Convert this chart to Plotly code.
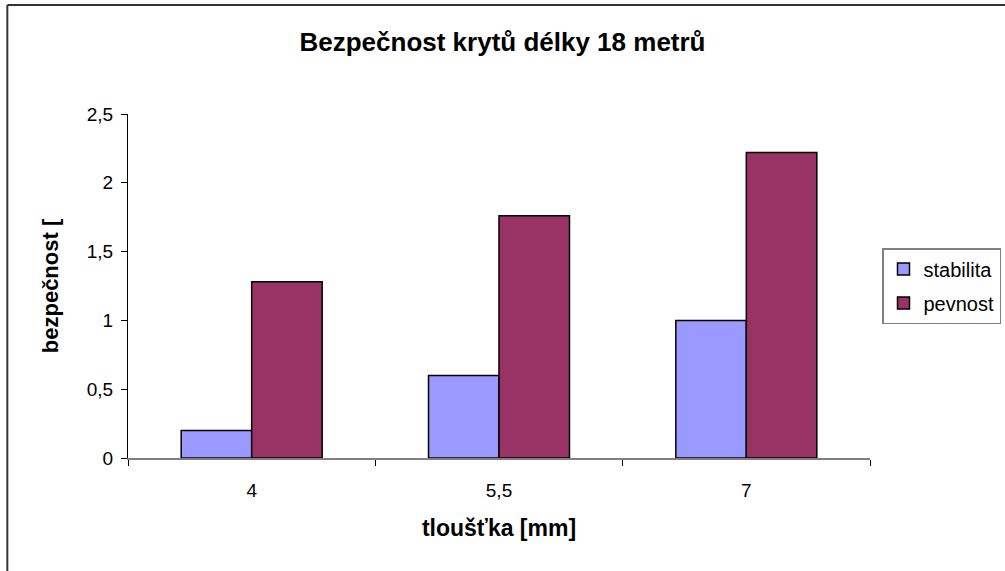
import plotly.graph_objects as go

# Data
thickness = ["4", "5,5", "7"]
stabilita = [0.2, 0.6, 1.0]
pevnost = [1.28, 1.76, 2.22]
y_ticks = [0, 0.5, 1, 1.5, 2, 2.5]
y_tick_labels = ["0", "0,5", "1", "1,5", "2", "2,5"]

FONT = "Liberation Sans, Arial, sans-serif"

fig = go.Figure()
fig.add_trace(go.Bar(
    x=thickness, y=stabilita, name="stabilita", legendgroup="a",
    marker=dict(color="#9999FF", line=dict(color="#000000", width=1.5)),
))
fig.add_trace(go.Bar(
    x=thickness, y=pevnost, name="pevnost", legendgroup="b",
    marker=dict(color="#993366", line=dict(color="#000000", width=1.5)),
))

# Plot area geometry in pixels (used for the outer frame lines)
L, R, T, B = 128, 133, 114, 113
W, H = 1005, 571
pw, ph = W - L - R, H - T - B

def px_x(x):
    return (x - L) / pw

def px_y(y):
    return (H - B - y) / ph

fig.update_layout(
    width=W, height=H,
    margin=dict(l=L, r=R, t=T, b=B),
    paper_bgcolor="white", plot_bgcolor="white",
    font=dict(family=FONT, size=19, color="#000000"),
    barmode="group", bargap=0.43, bargroupgap=0,
    title=dict(
        text="<b>Bezpečnost krytů délky 18 metrů</b>",
        x=0.5, xanchor="center", y=1 - 42 / H, yanchor="middle",
        font=dict(family=FONT, size=26),
    ),
    xaxis=dict(
        title=dict(text="<b>tloušťka [mm]</b>", font=dict(size=23), standoff=20),
        showline=True, linecolor="#808080", linewidth=2,
        ticks="outside", ticklen=6, tickcolor="#000000",
        tickson="boundaries", showgrid=False,
        tickfont=dict(size=19), ticklabelstandoff=14,
    ),
    yaxis=dict(
        title=dict(text="<b>bezpečnost [</b>", font=dict(size=22), standoff=22),
        range=[0, 2.5], tickvals=y_ticks, ticktext=y_tick_labels,
        showline=True, linecolor="#000000", linewidth=1,
        ticks="outside", ticklen=6, tickcolor="#000000",
        showgrid=False, zeroline=False,
        tickfont=dict(size=19), ticklabelstandoff=4,
    ),
    legend=dict(
        xref="container", yref="container",
        x=1001 / W, y=1 - 248 / H, xanchor="right", yanchor="top",
        bordercolor="#808080", borderwidth=1.5, bgcolor="white",
        font=dict(size=20), tracegroupgap=5,
        itemwidth=30,
    ),
    showlegend=True,
    shapes=[
        dict(type="line", xref="paper", yref="paper",
             x0=px_x(7), x1=px_x(1010), y0=px_y(5), y1=px_y(5),
             line=dict(color="#333333", width=2)),
        dict(type="line", xref="paper", yref="paper",
             x0=px_x(7), x1=px_x(7), y0=px_y(5), y1=px_y(580),
             line=dict(color="#333333", width=2)),
    ],
)

fig.write_html("out.html")
